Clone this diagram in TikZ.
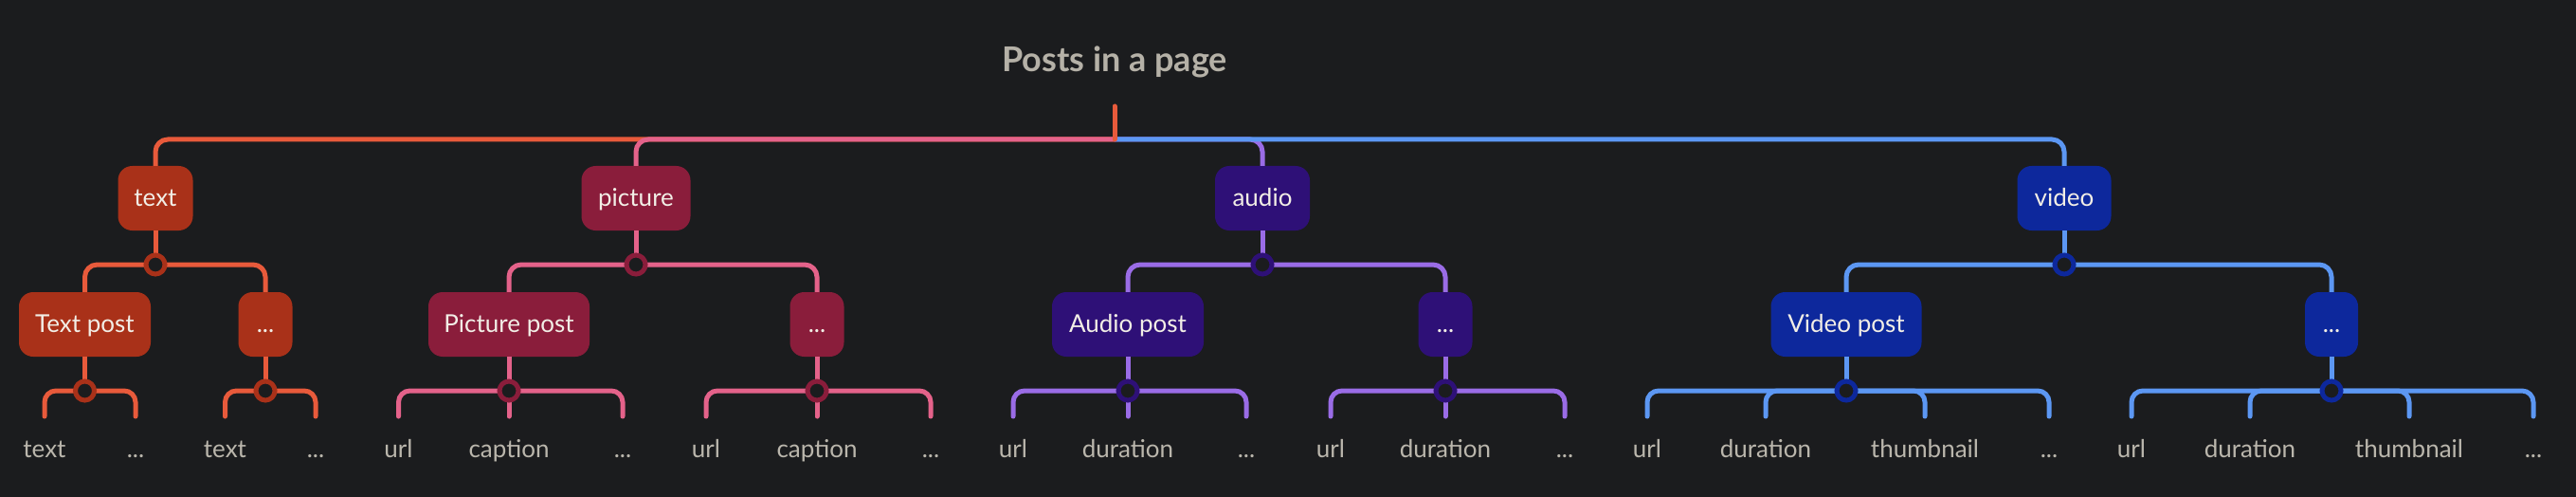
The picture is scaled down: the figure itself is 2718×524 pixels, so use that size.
\documentclass[tikz,border=0pt]{standalone}
\usepackage{fontspec}
\setmainfont{Lato}
\definecolor{bg}{HTML}{1B1C1E}
\definecolor{titletext}{HTML}{B5B1A7}
\definecolor{leaftext}{HTML}{BAB6AC}
\definecolor{nodetext}{HTML}{F2EEE6}
\definecolor{lnT}{HTML}{E85A3B}
\definecolor{fiT}{HTML}{A93119}
\definecolor{lnP}{HTML}{E4628A}
\definecolor{fiP}{HTML}{8A1D3B}
\definecolor{lnA}{HTML}{9A6CE6}
\definecolor{fiA}{HTML}{2E1077}
\definecolor{lnV}{HTML}{5C97F3}
\definecolor{fiV}{HTML}{0D289C}
\begin{document}
\begin{tikzpicture}[x=1pt,y=-1pt,
  conn/.style={line width=5pt, rounded corners=13pt},
  tick/.style={line width=5pt, rounded corners=12pt, line cap=round},
  topic/.style={rounded corners=15pt, minimum height=68pt, inner sep=0pt,
    text height=20pt, text depth=4pt, text=nodetext, font=\fontsize{26}{30}\selectfont},
  leaf/.style={anchor=north, inner sep=0pt, text height=43pt, text depth=0pt,
    text=leaftext, font=\fontsize{26}{30}\selectfont},
  junc/.style={circle, line width=5pt, minimum size=20pt, inner sep=0pt, fill=bg},
  titlestyle/.style={anchor=base, inner sep=0pt, text=titletext, font=\fontsize{36}{40}\selectfont\bfseries}
]
\fill[bg] (0,0) rectangle (2718,524);
\useasboundingbox (0,0) rectangle (2718,524);

% title and stem
\node[titlestyle] (title) at (1176,76) {Posts in a page};
\coordinate (stemtop) at (1176,112);
\coordinate (rootb) at (1176,147);

% level 1
\node[topic, fill=fiT, minimum width=79pt]  (text)    at (164,209)  {text};
\node[topic, fill=fiP, minimum width=115pt] (picture) at (671,209)  {picture};
\node[topic, fill=fiA, minimum width=100pt] (audio)   at (1332,209) {audio};
\node[topic, fill=fiV, minimum width=99pt]  (video)   at (2178,209) {video};

% level 2
\node[topic, fill=fiT, minimum width=139pt] (tpost) at (89.5,342) {Text post};
\node[topic, fill=fiT, minimum width=57pt]  (tdots) at (280,342)  {...};
\node[topic, fill=fiP, minimum width=170pt] (ppost) at (537,342)  {Picture post};
\node[topic, fill=fiP, minimum width=57pt]  (pdots) at (862,342)  {...};
\node[topic, fill=fiA, minimum width=160pt] (apost) at (1190,342) {Audio post};
\node[topic, fill=fiA, minimum width=57pt]  (adots) at (1525,342) {...};
\node[topic, fill=fiV, minimum width=159pt] (vpost) at (1948,342) {Video post};
\node[topic, fill=fiV, minimum width=56pt]  (vdots) at (2460,342) {...};

% junction coordinates
\coordinate (jT) at (164,279);
\coordinate (jP) at (671,279);
\coordinate (jA) at (1332,279);
\coordinate (jV) at (2178,279);
\coordinate (jTp) at (89.5,412);
\coordinate (jTd) at (280,412);
\coordinate (jPp) at (537,412);
\coordinate (jPd) at (862,412);
\coordinate (jAp) at (1190,412);
\coordinate (jAd) at (1525,412);
\coordinate (jVp) at (1948,412);
\coordinate (jVd) at (2460,412);

% leaves
\node[leaf] (l1)  at (47,439)    {text};
\node[leaf] (l2)  at (143,439)   {...};
\node[leaf] (l3)  at (237.5,439) {text};
\node[leaf] (l4)  at (333,439)   {...};
\node[leaf] (l5)  at (420.5,439) {url};
\node[leaf] (l6)  at (537,439)   {caption};
\node[leaf] (l7)  at (657,439)   {...};
\node[leaf] (l8)  at (745,439)   {url};
\node[leaf] (l9)  at (862,439)   {caption};
\node[leaf] (l10) at (982,439)   {...};
\node[leaf] (l11) at (1069,439)  {url};
\node[leaf] (l12) at (1190,439)  {duration};
\node[leaf] (l13) at (1315,439)  {...};
\node[leaf] (l14) at (1404,439)  {url};
\node[leaf] (l15) at (1525,439)  {duration};
\node[leaf] (l16) at (1651,439)  {...};
\node[leaf] (l17) at (1738,439)  {url};
\node[leaf] (l18) at (1863,439)  {duration};
\node[leaf] (l19) at (2031,439)  {thumbnail};
\node[leaf] (l20) at (2162,439)  {...};
\node[leaf] (l21) at (2249,439)  {url};
\node[leaf] (l22) at (2374,439)  {duration};
\node[leaf] (l23) at (2542,439)  {thumbnail};
\node[leaf] (l24) at (2673,439)  {...};

% root branches
\draw[conn, lnT] (rootb) -| (text.north);
\draw[conn, lnP] (rootb) -| (picture.north);
\draw[conn, lnA] (rootb) -| (audio.north);
\draw[conn, lnV] (rootb) -| (video.north);
\draw[conn, lnT, line cap=round] (stemtop) -- (rootb);

% text branch
\draw[conn, lnT] (text.south) -- (jT);
\draw[conn, lnT] (jT) -| (tpost.north);
\draw[conn, lnT] (jT) -| (tdots.north);
\draw[conn, lnT] (tpost.south) -- (jTp);
\draw[conn, lnT] (tdots.south) -- (jTd);
\draw[tick, lnT] (jTp) -| (l1.north);
\draw[tick, lnT] (jTp) -| (l2.north);
\draw[tick, lnT] (jTd) -| (l3.north);
\draw[tick, lnT] (jTd) -| (l4.north);

% picture branch
\draw[conn, lnP] (picture.south) -- (jP);
\draw[conn, lnP] (jP) -| (ppost.north);
\draw[conn, lnP] (jP) -| (pdots.north);
\draw[conn, lnP] (ppost.south) -- (jPp);
\draw[conn, lnP] (pdots.south) -- (jPd);
\draw[tick, lnP] (jPp) -| (l5.north);
\draw[tick, lnP] (jPp) -- (l6.north);
\draw[tick, lnP] (jPp) -| (l7.north);
\draw[tick, lnP] (jPd) -| (l8.north);
\draw[tick, lnP] (jPd) -- (l9.north);
\draw[tick, lnP] (jPd) -| (l10.north);

% audio branch
\draw[conn, lnA] (audio.south) -- (jA);
\draw[conn, lnA] (jA) -| (apost.north);
\draw[conn, lnA] (jA) -| (adots.north);
\draw[conn, lnA] (apost.south) -- (jAp);
\draw[conn, lnA] (adots.south) -- (jAd);
\draw[tick, lnA] (jAp) -| (l11.north);
\draw[tick, lnA] (jAp) -- (l12.north);
\draw[tick, lnA] (jAp) -| (l13.north);
\draw[tick, lnA] (jAd) -| (l14.north);
\draw[tick, lnA] (jAd) -- (l15.north);
\draw[tick, lnA] (jAd) -| (l16.north);

% video branch
\draw[conn, lnV] (video.south) -- (jV);
\draw[conn, lnV] (jV) -| (vpost.north);
\draw[conn, lnV] (jV) -| (vdots.north);
\draw[conn, lnV] (vpost.south) -- (jVp);
\draw[conn, lnV] (vdots.south) -- (jVd);
\draw[tick, lnV] (jVp) -| (l17.north);
\draw[tick, lnV] (jVp) -| (l18.north);
\draw[tick, lnV] (jVp) -| (l19.north);
\draw[tick, lnV] (jVp) -| (l20.north);
\draw[tick, lnV] (jVd) -| (l21.north);
\draw[tick, lnV] (jVd) -| (l22.north);
\draw[tick, lnV] (jVd) -| (l23.north);
\draw[tick, lnV] (jVd) -| (l24.north);

% junction circles
\node[junc, draw=fiT] (cT)  at (jT)  {};
\node[junc, draw=fiP] (cP)  at (jP)  {};
\node[junc, draw=fiA] (cA)  at (jA)  {};
\node[junc, draw=fiV] (cV)  at (jV)  {};
\node[junc, draw=fiT] (cTp) at (jTp) {};
\node[junc, draw=fiT] (cTd) at (jTd) {};
\node[junc, draw=fiP] (cPp) at (jPp) {};
\node[junc, draw=fiP] (cPd) at (jPd) {};
\node[junc, draw=fiA] (cAp) at (jAp) {};
\node[junc, draw=fiA] (cAd) at (jAd) {};
\node[junc, draw=fiV] (cVp) at (jVp) {};
\node[junc, draw=fiV] (cVd) at (jVd) {};
\end{tikzpicture}
\end{document}
